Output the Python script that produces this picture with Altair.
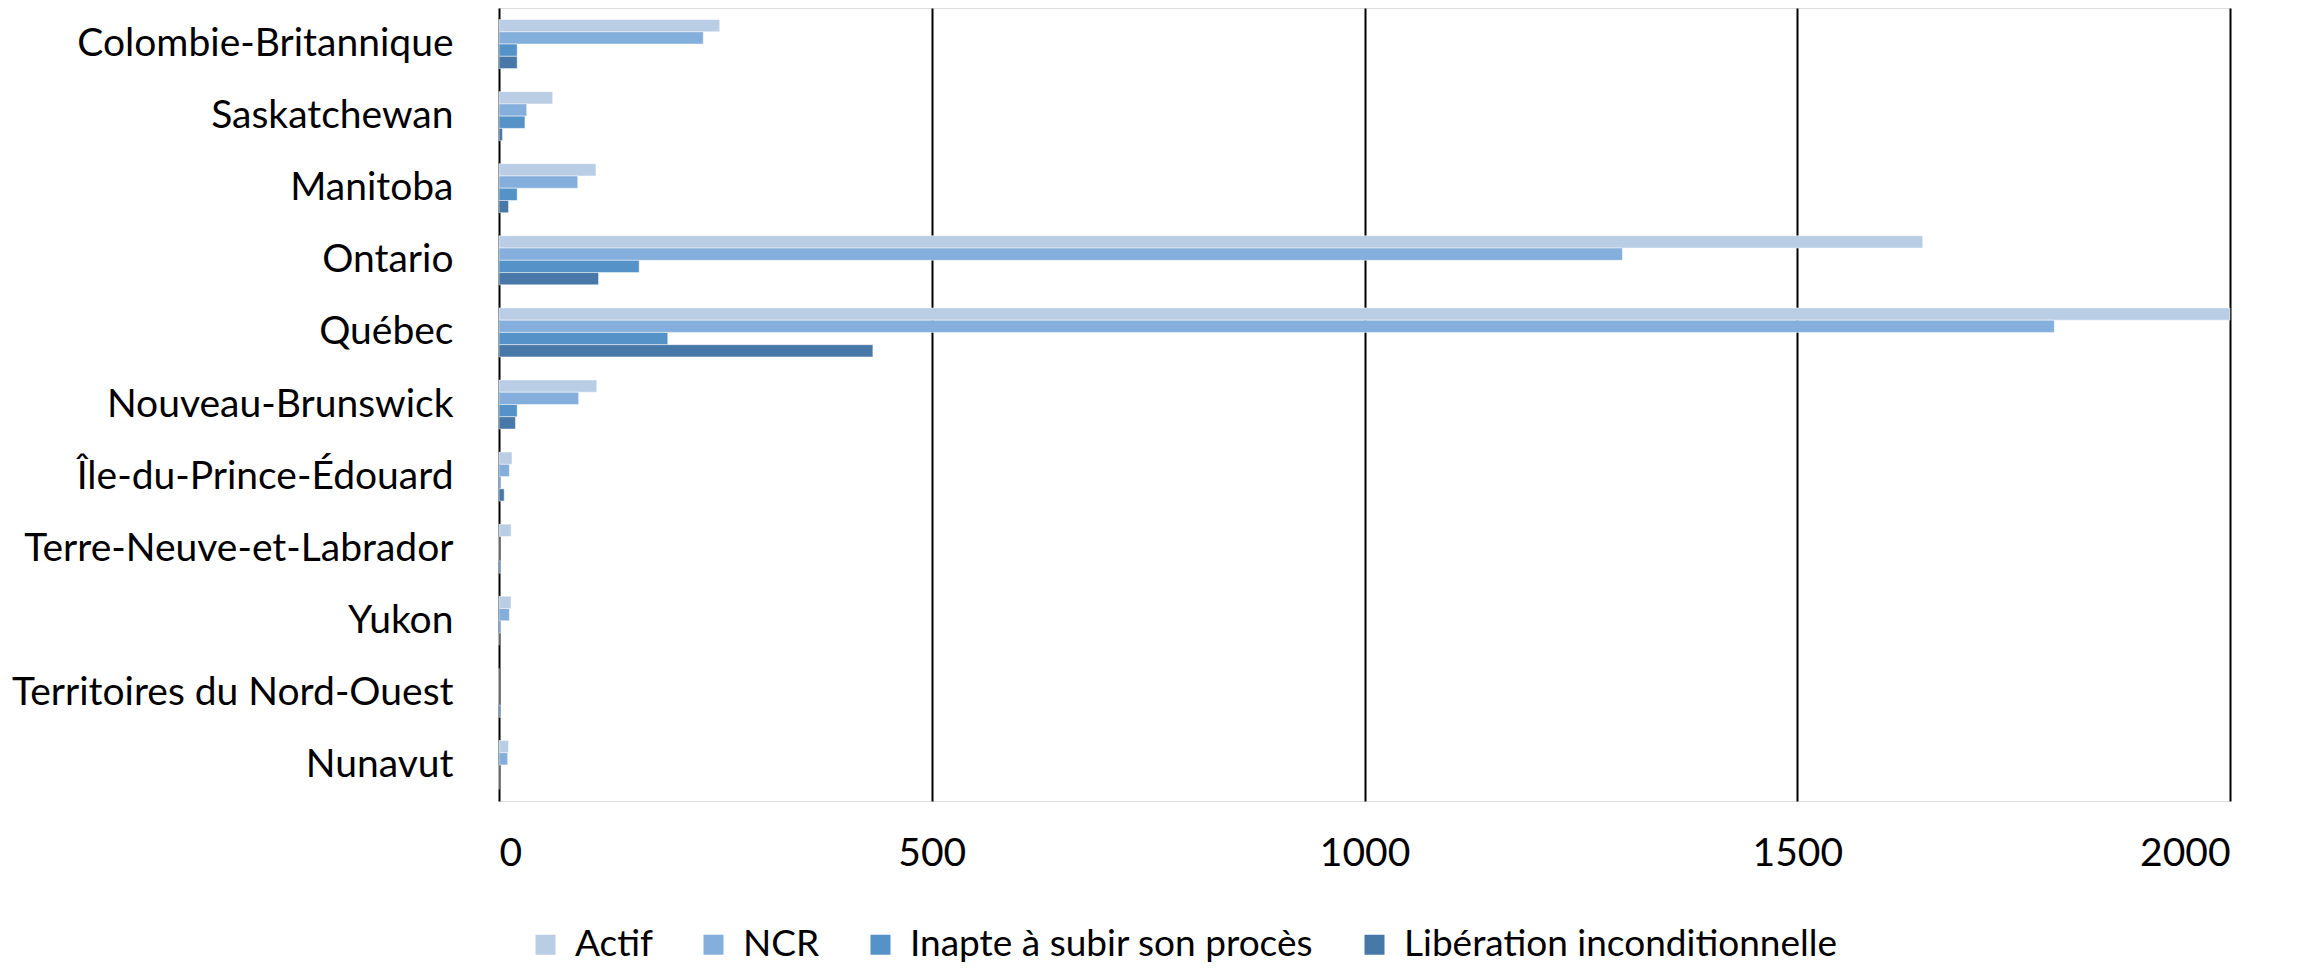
import altair as alt
import pandas as pd

provinces = [
    "Colombie-Britannique",
    "Saskatchewan",
    "Manitoba",
    "Ontario",
    "Québec",
    "Nouveau-Brunswick",
    "Île-du-Prince-Édouard",
    "Terre-Neuve-et-Labrador",
    "Yukon",
    "Territoires du Nord-Ouest",
    "Nunavut",
]
series = ["Actif", "NCR", "Inapte à subir son procès", "Libération inconditionnelle"]
colors = ["#B9CDE5", "#84AEDB", "#5592C8", "#4778A8"]

actif = [255, 62, 112, 1645, 2000, 113, 15, 14, 14, 0, 11]
ncr = [236, 32, 91, 1298, 1797, 92, 12, 0, 12, 0, 10]
inapte = [21, 30, 21, 162, 195, 21, 2, 0, 2, 0, 0]
liberation = [21, 4, 11, 115, 432, 19, 6, 2, 0, 2, 0]

x_ticks = [0, 500, 1000, 1500, 2000]

rows = []
for s, vals in zip(series, [actif, ncr, inapte, liberation]):
    for p, v in zip(provinces, vals):
        rows.append({"Province": p, "Série": s, "Valeur": v})
df = pd.DataFrame(rows)

FONT = "Lato"

chart = (
    alt.Chart(df)
    .mark_bar(stroke="#ffffff", strokeWidth=0.8, strokeOpacity=0.6)
    .encode(
        y=alt.Y(
            "Province:N",
            sort=provinces,
            scale=alt.Scale(paddingInner=0.32, paddingOuter=0.16),
            axis=alt.Axis(
                title=None,
                ticks=False,
                domain=False,
                grid=False,
                labelFontSize=39,
                labelFont=FONT,
                labelColor="#000000",
                labelPadding=46,
                labelLimit=600,
            ),
        ),
        yOffset=alt.YOffset(
            "Série:N", sort=series, scale=alt.Scale(paddingInner=0, paddingOuter=0)
        ),
        x=alt.X(
            "Valeur:Q",
            scale=alt.Scale(domain=[0, 2000], nice=False),
            axis=alt.Axis(
                title=None,
                values=x_ticks,
                format="d",
                grid=True,
                gridColor="#000000",
                gridWidth=2,
                gridOpacity=1,
                domain=False,
                ticks=False,
                labelFontSize=39,
                labelFont=FONT,
                labelColor="#000000",
                labelPadding=33,
            ),
        ),
        color=alt.Color(
            "Série:N",
            sort=series,
            scale=alt.Scale(domain=series, range=colors),
            legend=alt.Legend(
                title=None,
                orient="none",
                direction="horizontal",
                legendX=28,
                legendY=918,
                symbolType="square",
                symbolSize=400,
                symbolStrokeWidth=0,
                labelFontSize=37,
                labelFont=FONT,
                labelColor="#000000",
                labelOffset=11,
                columnPadding=42,
                labelLimit=800,
            ),
        ),
    )
    .properties(
        width=1731,
        height=793,
        autosize=alt.AutoSizeParams(type="none"),
        padding={"left": 491, "top": 0, "right": 59, "bottom": 166},
    )
    .configure_view(stroke=None)
    .configure(background="#ffffff")
)

chart.save("out.html", embed_options={"renderer": "svg", "actions": False})
